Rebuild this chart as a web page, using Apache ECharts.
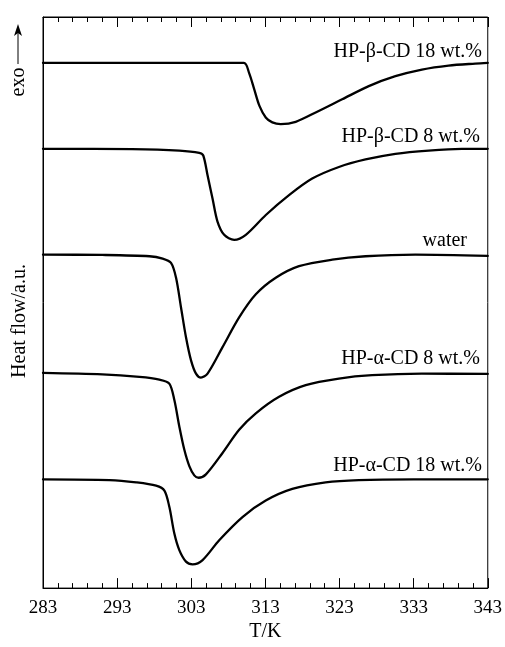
<!DOCTYPE html>
<html>
<head>
<meta charset="utf-8">
<script src="https://cdn.jsdelivr.net/npm/echarts@6/dist/echarts.min.js"></script>
<style>
html,body{margin:0;padding:0;background:#fff;}
#chart{width:505px;height:647px;}
</style>
</head>
<body>
<div id="chart"></div>
<script>
// Temperature ticks
const xTicks = [283, 293, 303, 313, 323, 333, 343];

// Heat flow curves (a.u., offset stacked) as [T/K, heat flow]
const hpBeta18 = [
  [283, 529.7], [300, 529.7], [310.1, 529.7], [310.8, 519.7], [311.5, 503], [312.2, 486.3],
  [313.05, 474.7], [313.94, 469.7], [315.07, 468], [317.09, 470.3], [319.78, 479.7],
  [323.36, 493], [326.95, 506.3], [330.54, 516.3], [334.12, 523], [337.71, 527],
  [341.31, 529], [343, 529.7]
];
const hpBeta8 = [
  [283, 443], [295, 442.7], [301.39, 441.3], [304.08, 439], [304.62, 436.3], [305.2, 416.3],
  [305.87, 393], [306.54, 369.7], [307.44, 356.3], [308.79, 351.3], [310.36, 356.3],
  [313.06, 376.3], [316.19, 396.3], [319.32, 413], [322.92, 424.7], [326.51, 432.3],
  [330.54, 438], [335.02, 441.3], [339.5, 443], [343, 443]
];
const water = [
  [283, 336.3], [291, 336], [297.36, 334.7], [299.14, 332.3], [300.27, 328], [300.95, 313],
  [301.62, 283], [302.29, 253], [302.97, 229.7], [303.64, 216.3], [304.31, 212.3],
  [305.2, 216.3], [307.22, 243], [309.46, 273], [311.71, 296.3], [314.4, 313],
  [317.54, 324.7], [322.02, 331.3], [326.51, 334.7], [333.24, 336.3], [343, 335]
];
const hpAlpha8 = [
  [283, 217], [291, 215.5], [296.01, 213], [298.7, 210.3], [300.04, 206.3], [300.72, 189.7],
  [301.39, 163], [302.06, 139.7], [302.74, 123], [303.41, 113.7], [303.99, 111.3],
  [304.98, 114.7], [307.22, 136.3], [309.46, 159.7], [311.71, 176.3], [314.85, 193],
  [318.44, 204.7], [322.92, 211.3], [327.4, 214.7], [334.12, 216.3], [343, 216]
];
const hpAlpha18 = [
  [283, 109.7], [291.97, 109], [295.57, 106.7], [298.26, 103.3], [299.38, 98.3], [300.05, 81.7],
  [300.72, 55], [301.39, 38.3], [302.29, 26.7], [303.18, 24], [304.53, 28.3],
  [306.77, 48.3], [309.91, 71.7], [313.05, 88.3], [316.63, 100], [321.13, 106.7],
  [325.61, 109], [333, 109.7], [343, 109.7]
];
const seriesNames = ['HP-β-CD 18 wt.%', 'HP-β-CD 8 wt.%', 'water', 'HP-α-CD 8 wt.%', 'HP-α-CD 18 wt.%'];
const seriesData = [hpBeta18, hpBeta8, water, hpAlpha8, hpAlpha18];

const FONT = '"Liberation Serif", "DejaVu Serif", serif';
const chart = echarts.init(document.getElementById('chart'), null, {renderer: 'canvas'});

const xBase = {
  type: 'value', min: 283, max: 343, interval: 10,
  axisLine: {show: true, lineStyle: {color: '#000', width: 1}},
  axisTick: {show: true, inside: true, length: 10, lineStyle: {color: '#000', width: 1}},
  minorTick: {show: true, splitNumber: 5, length: 5, lineStyle: {color: '#000', width: 1}},
  splitLine: {show: false}, minorSplitLine: {show: false}
};

// label positions (layout only)
const labelPos = [[482, 52], [480, 137], [467, 241], [480, 359], [482, 466]];

chart.setOption({
  animation: false,
  backgroundColor: '#fff',
  grid: {left: 43, right: 16, top: 17, bottom: 54, show: true, borderColor: '#000', borderWidth: 1},
  xAxis: [
    Object.assign({}, xBase, {
      position: 'bottom',
      name: 'T/K', nameLocation: 'middle', nameGap: 33,
      nameTextStyle: {fontFamily: FONT, fontSize: 20, color: '#000'},
      axisLabel: {show: true, margin: 10, fontFamily: FONT, fontSize: 19, color: '#000',
        formatter: v => xTicks.includes(v) ? String(v) : ''}
    }),
    Object.assign({}, xBase, {position: 'top', axisLabel: {show: false}})
  ],
  yAxis: {
    type: 'value', min: 0, max: 576,
    axisLine: {show: true, lineStyle: {color: '#000'}},
    axisTick: {show: false}, axisLabel: {show: false}, splitLine: {show: false}
  },
  series: seriesData.map((d, i) => ({
    name: seriesNames[i], type: 'line', data: d, xAxisIndex: 0,
    showSymbol: false, smooth: 0.3,
    lineStyle: {color: '#000', width: 2.3, join: 'round', cap: 'round'}
  })),
  graphic: [
    ...seriesNames.map((n, i) => ({
      type: 'text', x: labelPos[i][0], y: labelPos[i][1],
      style: {text: n, fill: '#000', font: '20px ' + FONT, textAlign: 'right', textVerticalAlign: 'middle'}
    })),
    {type: 'text', x: 20, y: 321, rotation: Math.PI / 2,
      style: {text: 'Heat flow/a.u.', fill: '#000', font: '20px ' + FONT, textAlign: 'center', textVerticalAlign: 'middle'}},
    {type: 'text', x: 19, y: 82, rotation: Math.PI / 2,
      style: {text: 'exo', fill: '#000', font: '20px ' + FONT, textAlign: 'center', textVerticalAlign: 'middle'}},
    {type: 'line', shape: {x1: 18, y1: 64, x2: 18, y2: 32}, style: {stroke: '#000', lineWidth: 1}},
    {type: 'polygon', shape: {points: [[18, 24], [14, 36], [18, 33], [22, 36]]}, style: {fill: '#000'}}
  ]
});
</script>
</body>
</html>
